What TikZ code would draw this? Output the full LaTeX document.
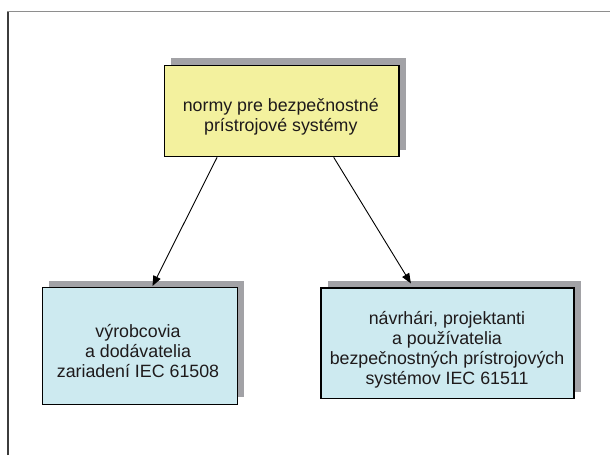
\documentclass[tikz,border=0pt]{standalone}
\usepackage{fontspec}
\setmainfont{Liberation Sans}
\usetikzlibrary{arrows.meta,shadows}

\definecolor{boxyellow}{HTML}{F3F19E}
\definecolor{boxblue}{HTML}{CDEAF0}
\definecolor{shadowgray}{HTML}{A2A2A6}
\definecolor{textgray}{HTML}{1E1A1B}
\definecolor{frametop}{HTML}{8E8E8E}
\definecolor{frameleft}{HTML}{3C3C3C}

% first-line strut: fixes the distance from a label's top to its first baseline
\newcommand{\firstline}{\rule{0pt}{18pt}}

\tikzset{
  normbox/.style={
    draw=black, line width=1.3pt, rectangle, inner sep=0pt,
    drop shadow={shadow xshift=7pt, shadow yshift=7pt,
                 fill=shadowgray, opacity=1}
  },
  boxlabel/.style={
    anchor=north, align=center, inner sep=0pt, text=textgray,
    font=\fontsize{17.8}{20}\selectfont
  },
  link/.style={draw=black, line width=0.9pt,
    -{Triangle[length=10pt,width=8pt]}}
}

\begin{document}
\begin{tikzpicture}[x=1pt,y=-1pt]
  \useasboundingbox (0,0) rectangle (610,455);

  % page frame
  \draw[frameleft, line width=1.3pt] (8,455) -- (8,11.5);
  \draw[frametop, line width=1.5pt] (7.4,11.5) -- (610,11.5);

  % boxes
  \node[normbox, fill=boxyellow, minimum width=234.5pt, minimum height=91.5pt]
    (top) at (281.7,110.9) {};
  \node[normbox, fill=boxblue, minimum width=195pt, minimum height=116.5pt]
    (left) at (139.8,345.9) {};
  \node[normbox, fill=boxblue, minimum width=253pt, minimum height=110.5pt]
    (right) at (447.5,343.3) {};

  % labels
  \node[boxlabel] (toptext) at (280.8,93.7)
    {\firstline normy pre bezpečnostné\\prístrojové systémy};
  \node[boxlabel] (lefttext) at (138,319.7)
    {\firstline výrobcovia\\a dodávatelia\\zariadení IEC 61508};
  \node[boxlabel] (righttext) at (447,306.3)
    {\firstline návrhári, projektanti\\a používatelia\\bezpečnostných prístrojových\\systémov IEC 61511};

  % connectors
  \draw[link] ([xshift=-64.6pt]top.south) -- ([xshift=12.7pt,yshift=1pt]left.north);
  \draw[link] ([xshift=52pt]top.south) -- ([xshift=-36.6pt,yshift=4pt]right.north);
\end{tikzpicture}
\end{document}
